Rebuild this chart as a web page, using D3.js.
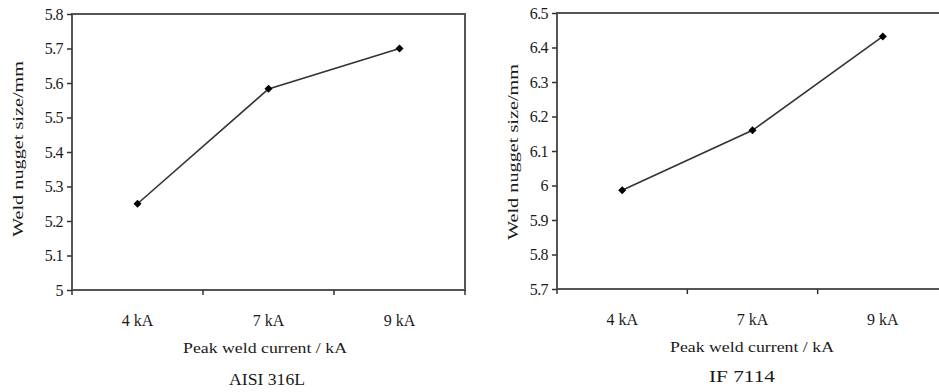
<!DOCTYPE html>
<html>
<head>
<meta charset="utf-8">
<script src="https://cdnjs.cloudflare.com/ajax/libs/d3/7.8.5/d3.min.js"></script>
<style>
  body { margin: 0; background: #fff; }
  svg text { font-family: "Liberation Serif", "Times New Roman", serif; fill: #1a1a1a; }
</style>
</head>
<body>
<div id="chart"></div>
<script>
// Dados
var categories = ["4 kA", "7 kA", "9 kA"];
var aisiValues = [5.25, 5.583, 5.70];
var ifValues = [5.986, 6.16, 6.432];
var aisiTicks = [5, 5.1, 5.2, 5.3, 5.4, 5.5, 5.6, 5.7, 5.8];
var ifTicks = [5.7, 5.8, 5.9, 6, 6.1, 6.2, 6.3, 6.4, 6.5];

var serif = "Liberation Serif, Times New Roman, serif";

var svg = d3.select("#chart")
  .append("svg")
  .attr("width", 939)
  .attr("height", 392)
  .attr("font-family", serif);

function lineChart(opts) {
  var width = opts.width, height = 276;

  var g = svg.append("g")
    .attr("transform", "translate(" + opts.left + "," + opts.top + ")");

  // Scales
  var x = d3.scaleBand().domain(categories).range([0, width]).padding(0);
  var y = d3.scaleLinear().domain([opts.ticks[0], opts.ticks[opts.ticks.length - 1]]).range([height, 0]);

  // Caixa do grafico
  g.append("rect")
    .attr("width", width)
    .attr("height", height)
    .attr("fill", "none")
    .attr("stroke", "#555")
    .attr("stroke-width", 2);

  // Eixo y
  var yAxis = d3.axisLeft(y).tickValues(opts.ticks).tickSize(5).tickPadding(4)
    .tickFormat(function(d) { return String(+d.toFixed(1)); });
  var ya = g.append("g").call(yAxis).attr("font-family", serif);
  ya.select(".domain").remove();
  ya.selectAll(".tick line").attr("stroke", "#333").attr("stroke-width", 1.5);
  ya.selectAll(".tick text").attr("font-size", "16px").attr("letter-spacing", "-0.6px");

  // Eixo x
  var xAxis = d3.axisBottom(x).tickSize(0).tickPadding(25);
  var xa = g.append("g").attr("transform", "translate(0," + height + ")").call(xAxis).attr("font-family", serif);
  xa.select(".domain").remove();
  xa.selectAll(".tick text").attr("font-size", "16px");

  // Marcas entre categorias
  var bounds = categories.map(function(c) { return x(c); }).concat([x.range()[1]]);
  g.selectAll(".xtick")
    .data(bounds)
    .enter()
    .append("line")
    .attr("x1", function(d) { return d; })
    .attr("x2", function(d) { return d; })
    .attr("y1", height)
    .attr("y2", height + 5)
    .attr("stroke", "#333")
    .attr("stroke-width", 1.5);

  // Linha
  var line = d3.line()
    .x(function(d, i) { return x(categories[i]) + x.bandwidth() / 2; })
    .y(function(d) { return y(d); });
  g.append("path")
    .datum(opts.values)
    .attr("d", line)
    .attr("fill", "none")
    .attr("stroke", "#333")
    .attr("stroke-width", 1.6);

  // Pontos (losangos)
  g.selectAll(".pt")
    .data(opts.values)
    .enter()
    .append("path")
    .attr("d", d3.symbol().type(d3.symbolSquare).size(32))
    .attr("transform", function(d, i) {
      return "translate(" + (x(categories[i]) + x.bandwidth() / 2) + "," + y(d) + ") rotate(45)";
    })
    .attr("fill", "#000");

  // Labels
  g.append("text")
    .attr("transform", "translate(" + opts.ylabelX + "," + opts.ylabelY + ") rotate(-90)")
    .attr("text-anchor", "middle")
    .attr("font-size", "15px")
    .attr("textLength", 176)
    .attr("lengthAdjust", "spacingAndGlyphs")
    .text("Weld nugget size/mm");
  g.append("text")
    .attr("x", opts.xlabelX)
    .attr("y", height + 63)
    .attr("text-anchor", "middle")
    .attr("font-size", "15px")
    .attr("textLength", 164)
    .attr("lengthAdjust", "spacingAndGlyphs")
    .text("Peak weld current / kA");
  g.append("text")
    .attr("x", opts.titleX)
    .attr("y", height + opts.titleDy)
    .attr("text-anchor", "middle")
    .attr("font-size", "16px")
    .attr("textLength", opts.titleLen)
    .attr("lengthAdjust", "spacingAndGlyphs")
    .text(opts.title);
}

lineChart({ left: 72, top: 14, width: 393, values: aisiValues, ticks: aisiTicks,
  title: "AISI 316L", ylabelX: -49, ylabelY: 135, xlabelX: 193, titleX: 195, titleDy: 95, titleLen: 76 });
lineChart({ left: 557, top: 13, width: 391, values: ifValues, ticks: ifTicks,
  title: "IF 7114", ylabelX: -39, ylabelY: 139, xlabelX: 195, titleX: 185, titleDy: 93, titleLen: 66 });
</script>
</body>
</html>
